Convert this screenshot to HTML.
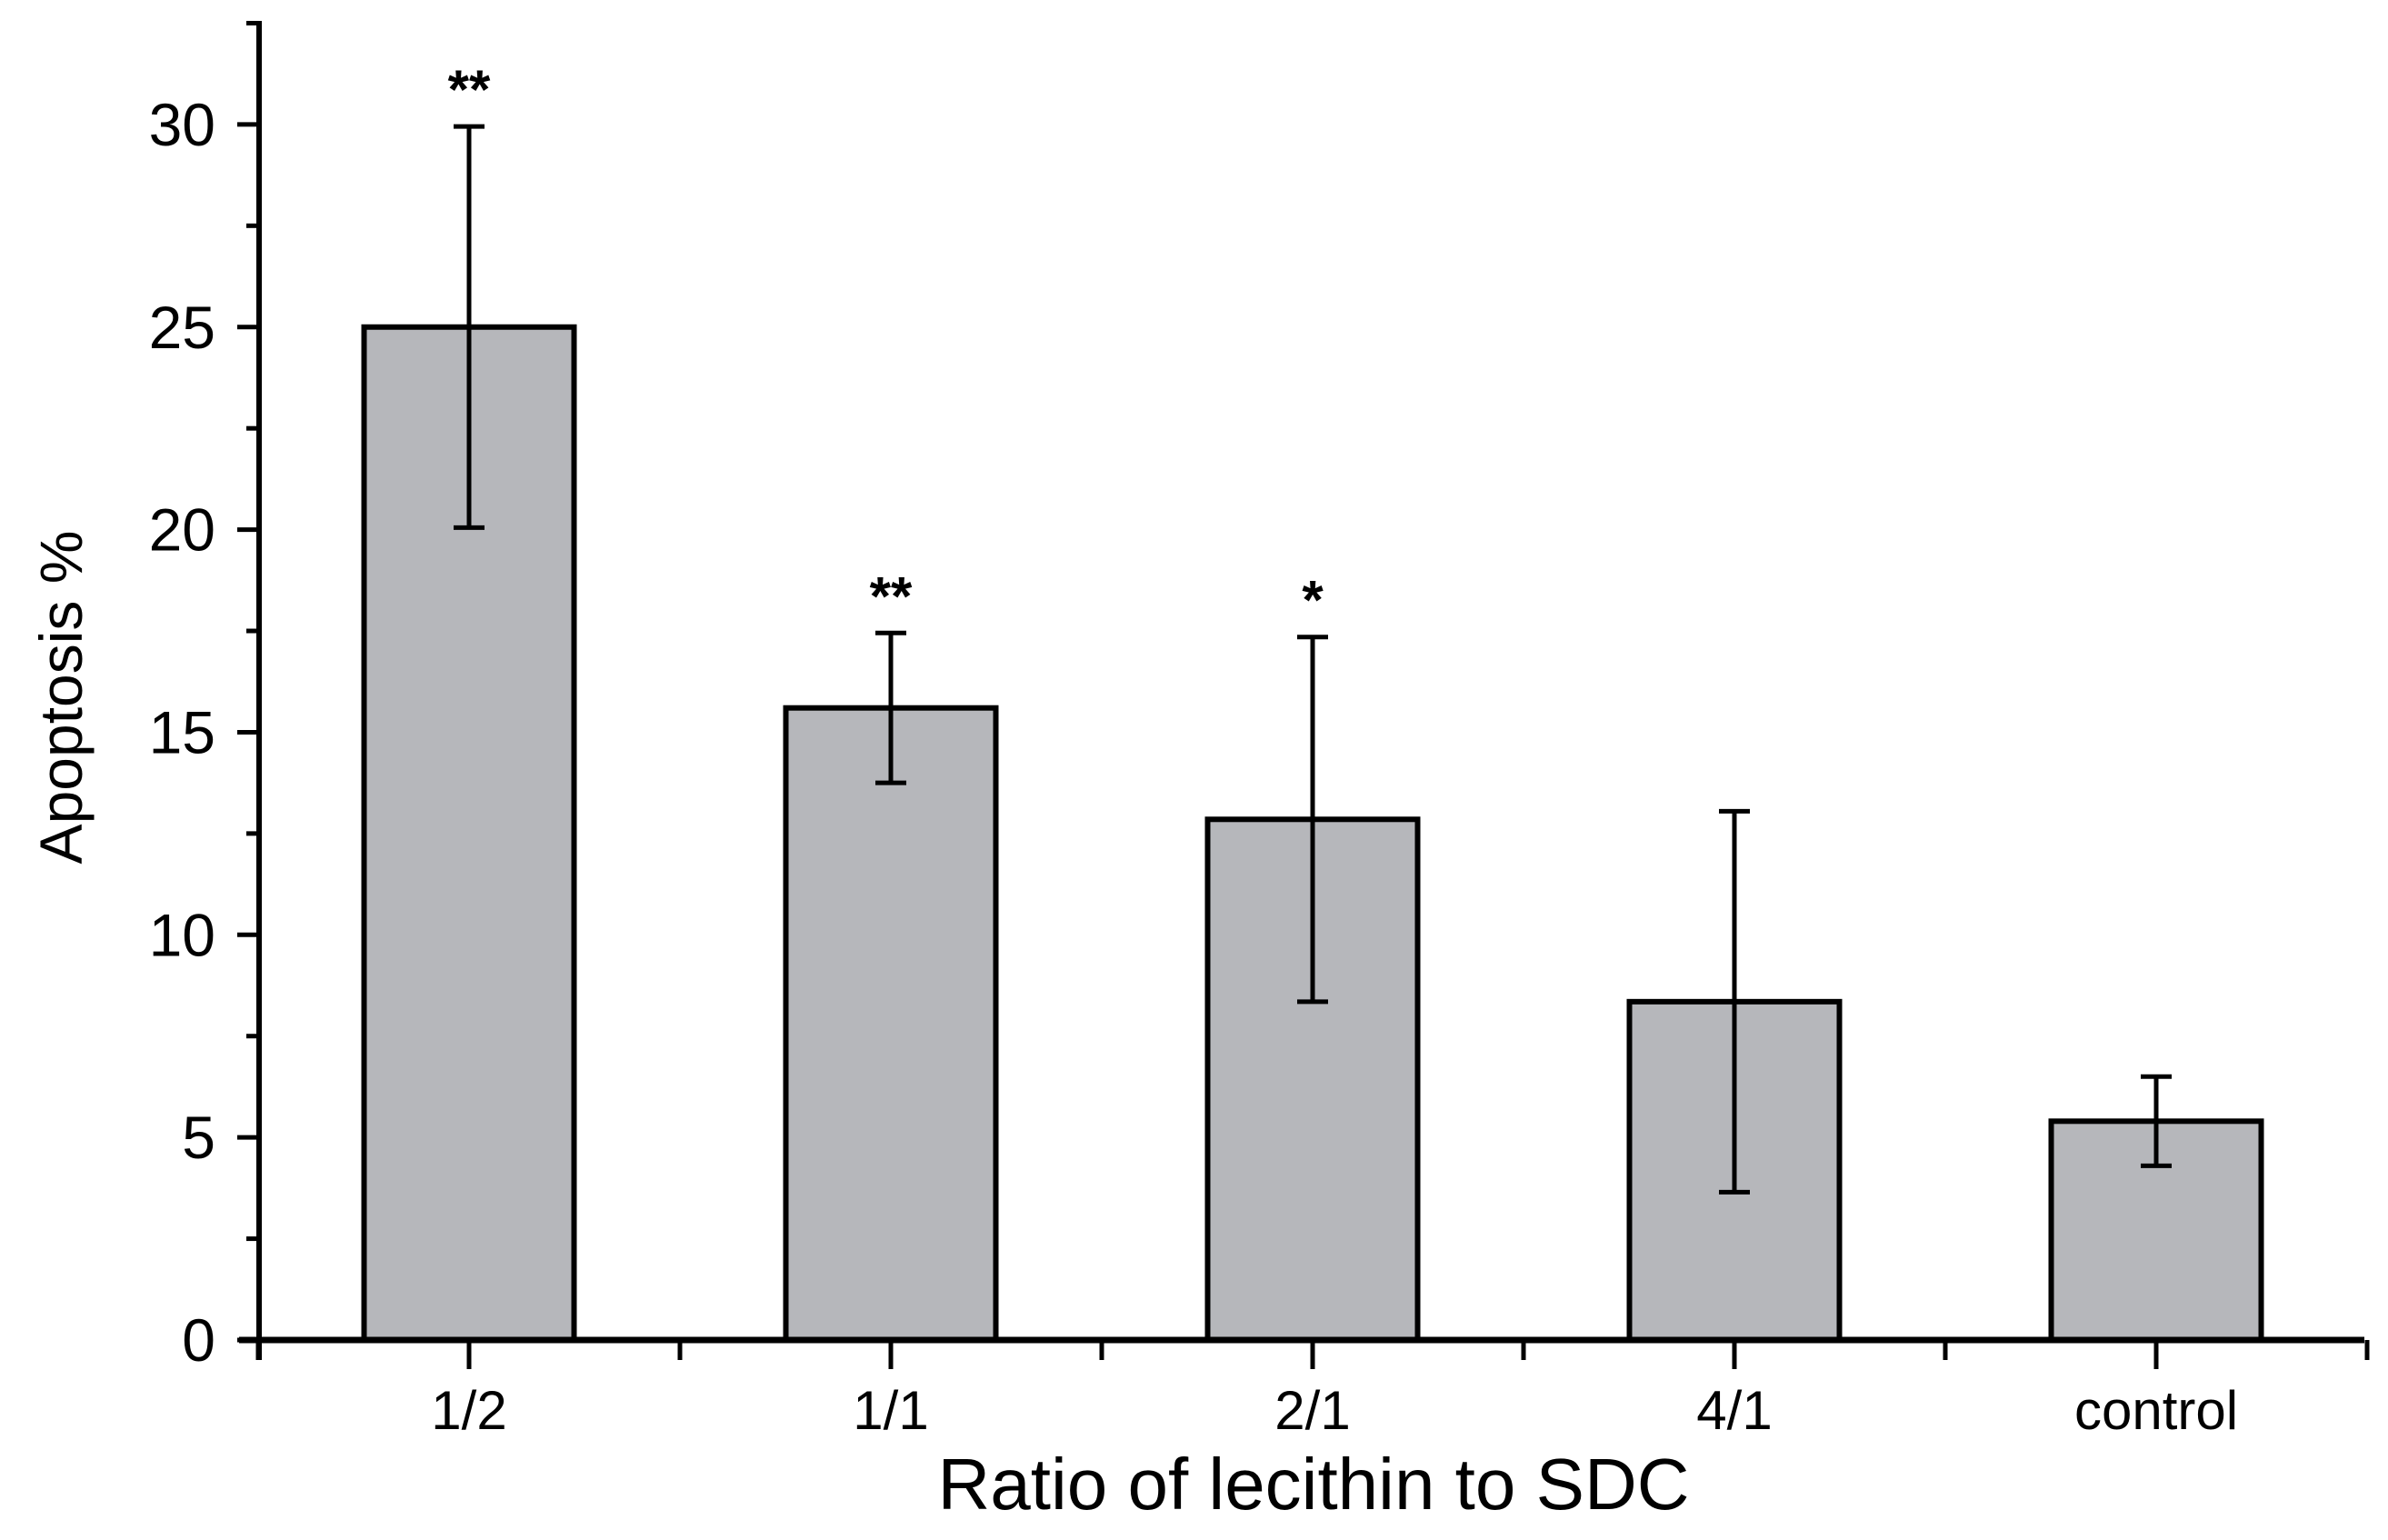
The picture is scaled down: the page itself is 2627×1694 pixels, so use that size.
<!DOCTYPE html>
<html><head><meta charset="utf-8"><style>
html,body{margin:0;padding:0;background:#fff;}
svg{display:block;font-family:"Liberation Sans",Arial,sans-serif;}
</style></head><body>
<svg id="chart" width="2627" height="1694" viewBox="0 0 2627 1694" xmlns="http://www.w3.org/2000/svg">
<g id="plot"></g>
</svg>
<script>
const categories = ["1/2","1/1","2/1","4/1","control"];
const values = [25.0, 15.6, 12.85, 8.35, 5.4];
const errors = [4.95, 1.85, 4.5, 4.7, 1.1];
const marks = ["**","**","*","",""];
const yTicks = [0,5,10,15,20,25,30];

const NS="http://www.w3.org/2000/svg";
const g=document.getElementById('plot');
const X0=285, Y0=1474, PX=44.57, C0=516, STEP=464, BW=231, XEND=2601, YTOP=23;
const y=v=>Y0-v*PX;
const x=i=>C0+i*STEP;
function el(tag,attrs,text){const e=document.createElementNS(NS,tag);for(const k in attrs)e.setAttribute(k,attrs[k]);if(text!==undefined)e.textContent=text;g.appendChild(e);return e;}

categories.forEach((c,i)=>{
  const b=el('rect',{x:x(i)-BW/2,y:y(values[i]),width:BW,height:Y0-y(values[i]),fill:'#b6b7bb',stroke:'#000','stroke-width':6});
  
  
  const hi=y(values[i]+errors[i]), lo=y(values[i]-errors[i]);
  const e1=el('path',{d:`M${x(i)},${hi}V${lo}M${x(i)-17},${hi}H${x(i)+17}M${x(i)-17},${lo}H${x(i)+17}`,stroke:'#000','stroke-width':5,fill:'none'});
  
  
  if(marks[i]){
    const m=el('text',{x:x(i),y:hi-20,'text-anchor':'middle','font-size':60,'font-weight':'bold'},marks[i]);
    
    
  }
  const t=el('text',{x:x(i),y:1572,'text-anchor':'middle','font-size':60},c);
  
  
});

const ya=el('path',{d:`M${X0},${YTOP}V${Y0+22}`,stroke:'#000','stroke-width':6,fill:'none'});


const xa=el('path',{d:`M${X0-22},${Y0}H${XEND}`,stroke:'#000','stroke-width':7,fill:'none'});



for(let v=0;v<=32.5;v+=2.5){
  const major=(v%5===0);
  el('path',{d:`M${X0},${y(v)}H${X0-(major?24:14)}`,stroke:'#000','stroke-width':5});
}
yTicks.forEach(v=>{
  const t=el('text',{x:237,y:y(v)+23,'text-anchor':'end','font-size':66},String(v));
  
  
});
categories.forEach((c,i)=>{
  el('path',{d:`M${x(i)},${Y0}V${Y0+32}`,stroke:'#000','stroke-width':5});
});
for(let i=-1;i<categories.length;i++){
  const xm=x(i)+STEP/2;
  el('path',{d:`M${xm},${Y0}V${Y0+22}`,stroke:'#000','stroke-width':5});
}

const xt=el('text',{x:1445,y:1660,'text-anchor':'middle','font-size':80},'Ratio of lecithin to SDC');


const yt=el('text',{x:0,y:0,'text-anchor':'middle','font-size':66,transform:'translate(90,767) rotate(-90)'},'Apoptosis %');


</script>
</body></html>
